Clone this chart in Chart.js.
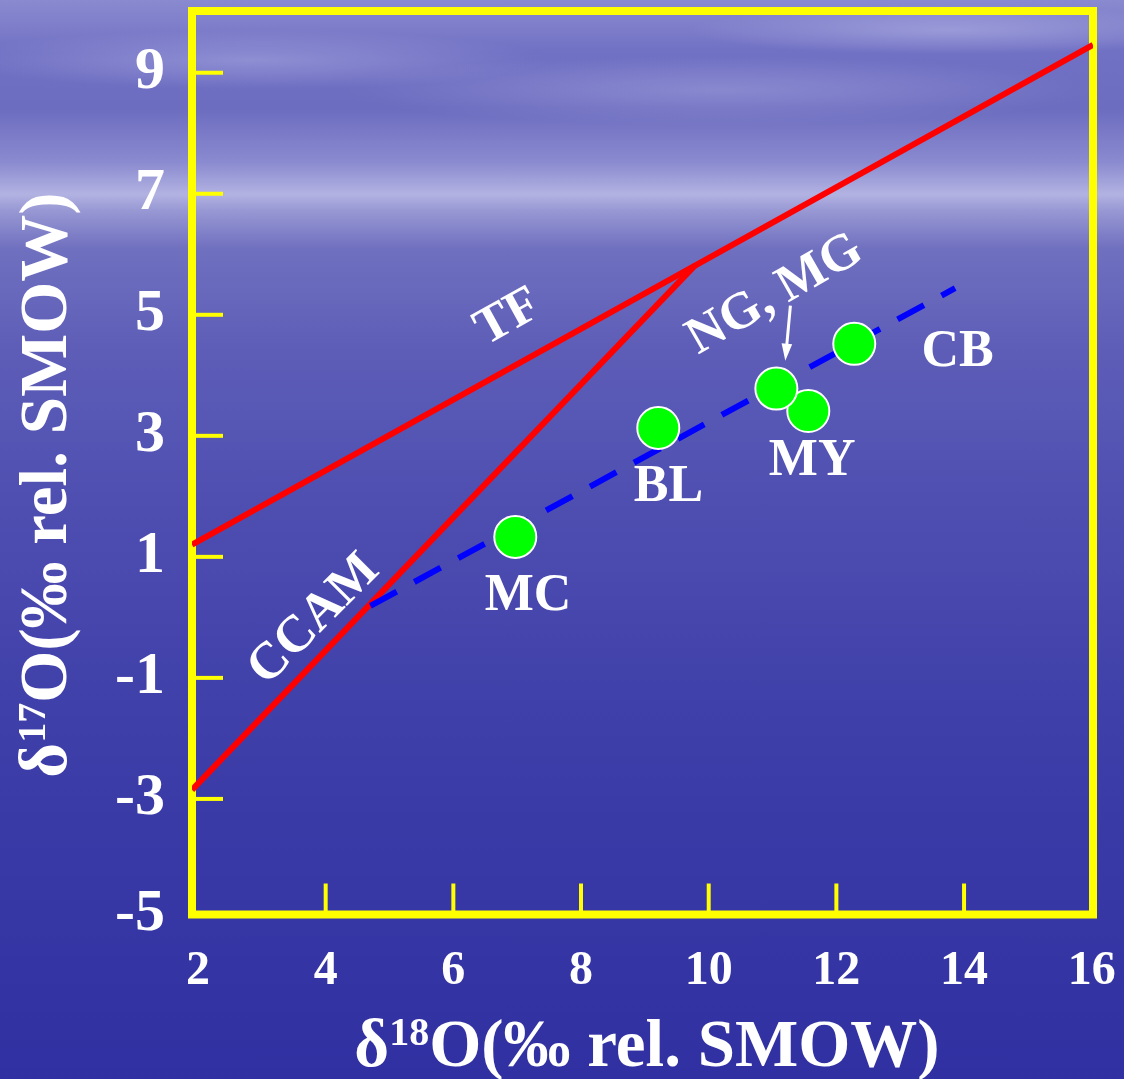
<!DOCTYPE html>
<html>
<head>
<meta charset="utf-8">
<script src="https://cdn.jsdelivr.net/npm/chart.js@4"></script>
<style>
  html, body { margin: 0; padding: 0; }
  body {
    width: 1124px; height: 1079px; overflow: hidden;
    background:
      radial-gradient(ellipse 300px 30px at 250px 60px, rgba(200,200,240,0.35), rgba(200,200,240,0) 100%),
      radial-gradient(ellipse 380px 35px at 720px 90px, rgba(200,200,240,0.30), rgba(200,200,240,0) 100%),
      radial-gradient(ellipse 260px 25px at 950px 30px, rgba(210,210,245,0.35), rgba(210,210,245,0) 100%),
      linear-gradient(to bottom, #8a8ad0 0%, #7070c4 5%, #6c6cc0 10%, #8a8ad0 15%, #b2b2e2 18%, #9898d4 19.5%, #7070c0 23%, #5e5eb8 32%, #5050b2 45%, #4242ab 62%, #3838a6 80%, #3030a2 100%);
  }
  #wrap { position: absolute; left: 0; top: 0; width: 1124px; height: 1079px; }
</style>
</head>
<body>
<div id="wrap"><canvas id="chart" width="1124" height="1079"></canvas></div>
<script>
// axis ranges and ticks
const xMin = 1.906, xMax = 16.02;
const yMin = -4.91, yMax = 10.02;
const xTicks = [2, 4, 6, 8, 10, 12, 14, 16];
const yTicks = [-5, -3, -1, 1, 3, 5, 7, 9];
const xInnerTicks = [4, 6, 8, 10, 12, 14];
const yInnerTicks = [-3, -1, 1, 3, 5, 7, 9];

// samples (drawing order: MY before NG so NG sits on top)
const sampleNames = ['MC', 'BL', 'MY', 'NG, MG', 'CB'];
const sampleX = [6.97, 9.21, 11.56, 11.06, 12.28];
const sampleY = [1.33, 3.13, 3.41, 3.78, 4.52];

// reference lines
const tfX = [1.906, 16.02];
const tfY = [1.20, 9.46];
const ccamX = [1.906, 9.79];
const ccamY = [-2.85, 5.82];
const mixX = [4.70, 13.86];
const mixY = [0.19, 5.44];

// text annotations
const labelText = ['TF', 'NG, MG', 'CCAM', 'CB', 'MY', 'BL', 'MC'];
const labelX = [6.86, 11.04, 3.82, 13.9, 11.62, 9.37, 7.17];
const labelY = [4.95, 5.33, -0.04, 4.38, 2.57, 2.14, 0.34];
const labelAngle = [-29, -30, -45, 0, 0, 0, 0];

// arrow from "NG, MG" label to its point
const arrowX = [11.28, 11.20];
const arrowY = [5.15, 4.24];

const pts = (xs, ys) => xs.map((x, i) => ({ x: x, y: ys[i] }));
const FONT = '"Liberation Serif", "Times New Roman", serif';
const YELLOW = '#ffff00';

function drawSupText(ctx, parts, size, supSize, rise) {
  ctx.font = 'bold ' + size + 'px ' + FONT;
  const w0 = ctx.measureText(parts[0]).width;
  const w2 = ctx.measureText(parts[2]).width;
  ctx.font = 'bold ' + supSize + 'px ' + FONT;
  const w1 = ctx.measureText(parts[1]).width;
  let x = -(w0 + w1 + w2) / 2;
  ctx.textAlign = 'left';
  ctx.textBaseline = 'alphabetic';
  ctx.font = 'bold ' + size + 'px ' + FONT;
  ctx.fillText(parts[0], x, 0);
  x += w0;
  ctx.font = 'bold ' + supSize + 'px ' + FONT;
  ctx.fillText(parts[1], x, -rise);
  x += w1;
  ctx.font = 'bold ' + size + 'px ' + FONT;
  ctx.fillText(parts[2], x, 0);
}

function noPad(s) {
  s.paddingTop = 0; s.paddingBottom = 0; s.paddingLeft = 0; s.paddingRight = 0;
}

const decor = {
  id: 'decor',
  beforeDatasetsDraw(chart) {
    const ctx = chart.ctx, a = chart.chartArea;
    const xs = chart.scales.x, ys = chart.scales.y;
    ctx.save();
    ctx.strokeStyle = YELLOW;
    ctx.lineWidth = 4;
    xInnerTicks.forEach(v => {
      const px = xs.getPixelForValue(v);
      ctx.beginPath(); ctx.moveTo(px, a.bottom); ctx.lineTo(px, a.bottom - 31); ctx.stroke();
    });
    yInnerTicks.forEach(v => {
      const py = ys.getPixelForValue(v);
      ctx.beginPath(); ctx.moveTo(a.left, py); ctx.lineTo(a.left + 31, py); ctx.stroke();
    });
    ctx.lineWidth = 8;
    ctx.strokeRect(a.left, a.top, a.right - a.left, a.bottom - a.top);
    ctx.restore();
  },
  afterDatasetsDraw(chart) {
    const ctx = chart.ctx;
    const xs = chart.scales.x, ys = chart.scales.y;
    ctx.save();
    ctx.fillStyle = '#ffffff';
    ctx.strokeStyle = '#ffffff';
    ctx.font = 'bold 52px ' + FONT;
    ctx.textAlign = 'center';
    ctx.textBaseline = 'middle';
    labelText.forEach((t, i) => {
      ctx.save();
      ctx.translate(xs.getPixelForValue(labelX[i]), ys.getPixelForValue(labelY[i]));
      ctx.rotate(labelAngle[i] * Math.PI / 180);
      ctx.fillText(t, 0, 0);
      ctx.restore();
    });
    // arrow
    const x0 = xs.getPixelForValue(arrowX[0]), y0 = ys.getPixelForValue(arrowY[0]);
    const x1 = xs.getPixelForValue(arrowX[1]), y1 = ys.getPixelForValue(arrowY[1]);
    const ang = Math.atan2(y1 - y0, x1 - x0);
    ctx.lineWidth = 3;
    ctx.beginPath(); ctx.moveTo(x0, y0);
    ctx.lineTo(x1 - 14 * Math.cos(ang), y1 - 14 * Math.sin(ang)); ctx.stroke();
    ctx.beginPath();
    ctx.moveTo(x1, y1);
    ctx.lineTo(x1 - 18 * Math.cos(ang - 0.3), y1 - 18 * Math.sin(ang - 0.3));
    ctx.lineTo(x1 - 18 * Math.cos(ang + 0.3), y1 - 18 * Math.sin(ang + 0.3));
    ctx.closePath(); ctx.fill();

    // axis titles
    ctx.save();
    ctx.translate(647, 1066);
    drawSupText(ctx, ['\u03b4', '18', 'O(\u2030 rel. SMOW)'], 67, 40, 21);
    ctx.restore();
    ctx.save();
    ctx.translate(66, 485);
    ctx.rotate(-Math.PI / 2);
    drawSupText(ctx, ['\u03b4', '17', 'O(\u2030 rel. SMOW)'], 67, 40, 21);
    ctx.restore();
    ctx.restore();
  }
};

new Chart(document.getElementById('chart'), {
  type: 'scatter',
  data: {
    datasets: [
      {
        label: 'samples',
        data: pts(sampleX, sampleY),
        backgroundColor: '#00ff00',
        borderColor: '#ffffff',
        borderWidth: 2,
        pointRadius: 21,
        order: 0
      },
      {
        label: 'mixing',
        type: 'line',
        data: pts(mixX, mixY),
        borderColor: '#0000ff',
        borderWidth: 6,
        borderDash: [30, 20],
        pointRadius: 0,
        order: 1
      },
      {
        label: 'TF',
        type: 'line',
        data: pts(tfX, tfY),
        borderColor: '#ff0000',
        borderWidth: 6,
        pointRadius: 0,
        order: 2
      },
      {
        label: 'CCAM',
        type: 'line',
        data: pts(ccamX, ccamY),
        borderColor: '#ff0000',
        borderWidth: 6,
        pointRadius: 0,
        order: 2
      }
    ]
  },
  options: {
    responsive: false,
    animation: false,
    layout: { autoPadding: false, padding: { top: 11, right: 31, left: 0, bottom: 0 } },
    plugins: { legend: { display: false }, tooltip: { enabled: false } },
    scales: {
      x: {
        type: 'linear',
        min: xMin, max: xMax,
        grid: { display: false, drawTicks: false },
        border: { display: false },
        afterBuildTicks: s => { s.ticks = xTicks.map(v => ({ value: v })); },
        afterFit: s => { s.height = 164.5; noPad(s); },
        ticks: {
          color: '#ffffff',
          padding: 28,
          maxRotation: 0,
          font: { family: FONT, size: 48, weight: 'bold' },
          callback: v => String(Math.round(v))
        }
      },
      y: {
        type: 'linear',
        min: yMin, max: yMax,
        grid: { display: false, drawTicks: false },
        border: { display: false },
        afterBuildTicks: s => { s.ticks = yTicks.map(v => ({ value: Math.max(v, yMin) })); },
        afterFit: s => { s.width = 192; noPad(s); },
        ticks: {
          color: '#ffffff',
          padding: 27,
          font: { family: FONT, size: 60, weight: 'bold' },
          callback: v => String(Math.round(v))
        }
      }
    }
  },
  plugins: [decor]
});
</script>
</body>
</html>
